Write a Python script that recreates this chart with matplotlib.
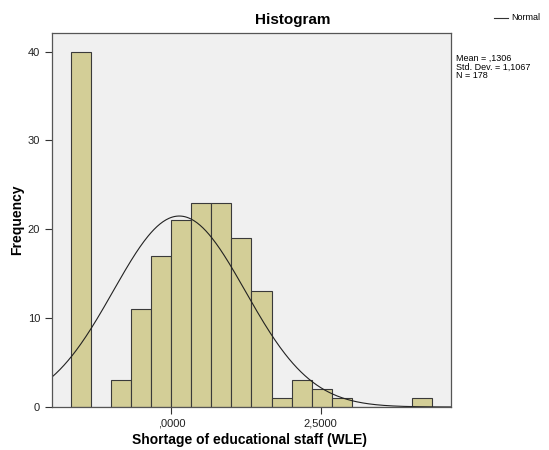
import numpy as np
import matplotlib.pyplot as plt

plt.rcParams.update({'font.family': 'Liberation Sans'})

# histogram bins (WLE) and counts
bin_edges = [-1.675, -1.34, -1.005, -0.67, -0.335, 0.0, 0.335, 0.67, 1.005,
             1.34, 1.675, 2.01, 2.345, 2.68, 3.015, 3.35, 3.685, 4.02, 4.355]
counts = [40, 0, 3, 11, 17, 21, 23, 23, 19, 13, 1, 3, 2, 1, 0, 0, 0, 1]

mean_wle = 0.1306
sd_wle = 1.1067
n_obs = 178

xticks = [0.0, 2.5]
xticklabels = [',0000', '2,5000']
yticks = [0, 10, 20, 30, 40]

fig = plt.figure(figsize=(5.49, 4.5), dpi=100)
ax = fig.add_axes([0.0947, 0.0956, 0.7268, 0.8311])
ax.set_facecolor('#F0F0F0')

edges = np.array(bin_edges)
widths = np.diff(edges)
ax.bar(edges[:-1], counts, width=widths, align='edge', color='#D3CE97',
       edgecolor='#3a3a3a', linewidth=0.8)

# fitted normal curve from the reported mean / sd / N
bw = widths.mean()
xs = np.linspace(-2.0, 4.68, 400)
ys = n_obs * bw / (sd_wle * np.sqrt(2 * np.pi)) * np.exp(-0.5 * ((xs - mean_wle) / sd_wle) ** 2)
ax.plot(xs, ys, color='#222222', linewidth=0.8)

ax.set_xlim(-2.0, 4.68)
ax.set_ylim(0, 42.1)
ax.set_xticks(xticks)
ax.set_xticklabels(xticklabels)
ax.set_yticks(yticks)
ax.tick_params(direction='out', length=5, width=0.8, labelsize=8, color='#333333',
               labelcolor='#222222')
for s in ax.spines.values():
    s.set_color('#555555')
    s.set_linewidth(0.9)

fig.text(250 / 549, 1 - 440 / 450, 'Shortage of educational staff (WLE)',
         ha='center', va='center', fontsize=10, fontweight='bold')
fig.text(17 / 549, 1 - 220 / 450, 'Frequency', ha='center', va='center',
         rotation=90, fontsize=10, fontweight='bold')
fig.text(293 / 549, 1 - 20 / 450, 'Histogram', ha='center', va='center',
         fontsize=11, fontweight='bold')

# legend + stats box at right
fig.add_artist(plt.Line2D([494 / 549, 508 / 549], [1 - 18 / 450, 1 - 18 / 450],
                          color='#333333', linewidth=0.8))
fig.text(511 / 549, 1 - 18 / 450, 'Normal', ha='left', va='center', fontsize=6.5)
fig.text(456 / 549, 1 - 54 / 450,
         'Mean = ,1306\nStd. Dev. = 1,1067\nN = 178',
         ha='left', va='top', fontsize=6.5, linespacing=0.95)

fig.savefig('out.png', dpi=100)
